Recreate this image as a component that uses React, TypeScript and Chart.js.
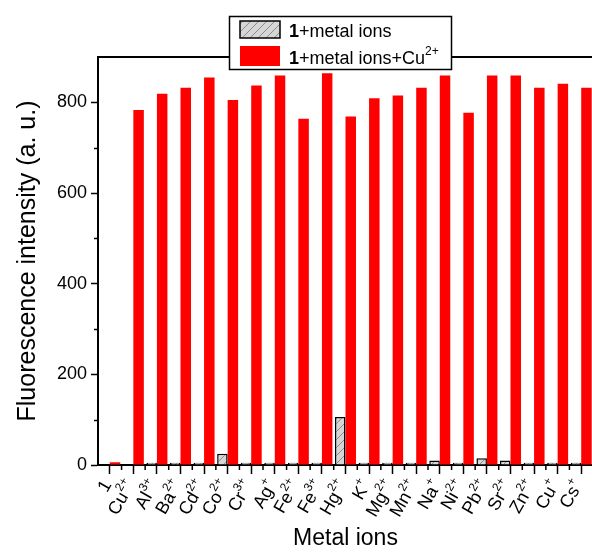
import React, { useEffect, useRef } from 'react';
import { Chart, registerables } from 'chart.js';

Chart.register(...registerables);

// ---- data ----
const categories = ['1', 'Cu²⁺', 'Al³⁺', 'Ba²⁺', 'Cd²⁺', 'Co²⁺', 'Cr³⁺', 'Ag⁺', 'Fe²⁺', 'Fe³⁺', 'Hg²⁺', 'K⁺', 'Mg²⁺', 'Mn²⁺', 'Na⁺', 'Ni²⁺', 'Pb²⁺', 'Sr²⁺', 'Zn²⁺', 'Cu⁺', 'Cs⁺'];
const metalOnly = [0, 0, 5, 5, 5, 25, 5, 5, 5, 5, 106, 5, 5, 5, 10, 5, 15, 10, 5, 5, 5];
const metalPlusCu = [6, 783, 819, 832, 855, 805, 837, 859, 764, 864, 769, 809, 815, 832, 859, 777, 859, 859, 832, 841, 832];
const yTickValues = [0, 200, 400, 600, 800];
const yMinorValues = [100, 300, 500, 700];
const legendLabels = ['1+metal ions', '1+metal ions+Cu²⁺'];
const xTitle = 'Metal ions';
const yTitle = 'Fluorescence intensity (a. u.)';

const FONT = "'Liberation Sans', Arial, sans-serif";
const W = 600;
const H = 552;

const SUP: Record<string, string> = { '²': '2', '³': '3', '⁺': '+' };
function splitLabel(s: string): [string, string] {
  let i = s.length;
  while (i > 0 && SUP[s[i - 1]]) i--;
  return [s.slice(0, i), s.slice(i).split('').map((c) => SUP[c]).join('')];
}

function makeHatch(): CanvasPattern | string {
  const c = document.createElement('canvas');
  c.width = 8;
  c.height = 8;
  const g = c.getContext('2d');
  if (!g) return '#d4d4d4';
  g.fillStyle = '#d6d6d6';
  g.fillRect(0, 0, 8, 8);
  g.strokeStyle = '#8c8c8c';
  g.lineWidth = 1;
  g.beginPath();
  g.moveTo(0, 8);
  g.lineTo(8, 0);
  g.moveTo(-1, 1);
  g.lineTo(1, -1);
  g.moveTo(7, 9);
  g.lineTo(9, 7);
  g.stroke();
  return g.createPattern(c, 'repeat') || '#d4d4d4';
}

function drawRich(ctx: CanvasRenderingContext2D, x: number, y: number, text: string, size: number) {
  // first char "1" bold, trailing superscript smaller
  const [base, sup] = splitLabel(text);
  const first = base.slice(0, 1);
  const rest = base.slice(1);
  ctx.textAlign = 'left';
  ctx.textBaseline = 'alphabetic';
  ctx.font = `bold ${size}px ${FONT}`;
  ctx.fillText(first, x, y);
  let cx = x + ctx.measureText(first).width;
  ctx.font = `${size}px ${FONT}`;
  ctx.fillText(rest, cx, y);
  cx += ctx.measureText(rest).width;
  if (sup) {
    ctx.font = `${Math.round(size * 0.66)}px ${FONT}`;
    ctx.fillText(sup, cx, y - size * 0.48);
  }
}

export default function App() {
  const ref = useRef<HTMLCanvasElement | null>(null);

  useEffect(() => {
    if (!ref.current) return;
    const hatch = makeHatch();

    const decor = {
      id: 'decor',
      afterDraw(chart: any) {
        const { ctx, chartArea: a, scales } = chart;
        const x = scales.x;
        const y = scales.y;
        ctx.save();
        ctx.strokeStyle = '#000';
        // top frame line
        ctx.lineWidth = 2;
        ctx.beginPath();
        ctx.moveTo(a.left - 1, a.top);
        ctx.lineTo(a.right + 1, a.top);
        ctx.stroke();
        // minor ticks
        ctx.lineWidth = 1.5;
        ctx.beginPath();
        yMinorValues.forEach((v) => {
          const py = Math.round(y.getPixelForValue(v)) + 0.5;
          ctx.moveTo(a.left, py);
          ctx.lineTo(a.left - 4, py);
        });
        const step = x.getPixelForValue(1) - x.getPixelForValue(0);
        for (let i = 0; i < categories.length; i++) {
          const px = x.getPixelForValue(i) + step / 2;
          ctx.moveTo(px, a.bottom);
          ctx.lineTo(px, a.bottom + 5);
        }
        ctx.stroke();
        // x tick labels (rotated, with superscripts)
        ctx.fillStyle = '#000';
        categories.forEach((lab, i) => {
          const [base, sup] = splitLabel(lab);
          const px = x.getPixelForValue(i);
          ctx.save();
          ctx.translate(px - 2, a.bottom + 17);
          ctx.rotate(-Math.PI / 3);
          ctx.textBaseline = 'middle';
          ctx.textAlign = 'left';
          ctx.font = `18px ${FONT}`;
          const wB = ctx.measureText(base).width;
          ctx.font = `12px ${FONT}`;
          const wS = sup ? ctx.measureText(sup).width : 0;
          ctx.font = `18px ${FONT}`;
          ctx.fillText(base, -(wB + wS), 0);
          if (sup) {
            ctx.font = `12px ${FONT}`;
            ctx.fillText(sup, -wS, -7);
          }
          ctx.restore();
        });
        // legend
        ctx.fillStyle = '#fff';
        ctx.fillRect(229, 16, 223, 54);
        ctx.lineWidth = 1.5;
        ctx.strokeStyle = '#000';
        ctx.strokeRect(229.5, 16.5, 222, 53);
        ctx.fillStyle = hatch;
        ctx.fillRect(240, 21, 40, 17);
        ctx.strokeRect(240, 21, 40, 17);
        ctx.fillStyle = '#ff0000';
        ctx.fillRect(240, 46, 40, 20);
        ctx.fillStyle = '#000';
        drawRich(ctx, 289, 37, legendLabels[0], 18);
        drawRich(ctx, 289, 64, legendLabels[1], 18);
        ctx.restore();
      },
    };

    const chart = new Chart(ref.current, {
      type: 'bar',
      data: {
        labels: categories,
        datasets: [
          {
            label: legendLabels[0],
            data: metalOnly,
            backgroundColor: hatch as any,
            borderColor: '#000',
            borderWidth: 1.5,
            categoryPercentage: 0.89,
            barPercentage: 1.0,
          },
          {
            label: legendLabels[1],
            data: metalPlusCu,
            backgroundColor: '#ff0000',
            borderWidth: 0,
            categoryPercentage: 0.89,
            barPercentage: 1.0,
          },
        ],
      },
      options: {
        responsive: false,
        animation: false,
        devicePixelRatio: 1,
        layout: { padding: { top: 57, right: W - 593, left: 0, bottom: 0 } },
        plugins: { legend: { display: false }, tooltip: { enabled: false } },
        scales: {
          x: {
            type: 'category',
            offset: true,
            grid: { offset: false, drawOnChartArea: false, drawTicks: true, tickLength: 9, tickColor: '#000', tickWidth: 1.5 },
            border: { color: '#000', width: 2 },
            ticks: { display: false },
            title: { display: true, text: xTitle, color: '#000', font: { family: FONT, size: 23 }, padding: { top: 0, bottom: 0 } },
            afterFit: (s: any) => {
              s.height = 87;
            },
          },
          y: {
            min: 0,
            max: 900,
            afterBuildTicks: (s: any) => {
              s.ticks = yTickValues.map((v) => ({ value: v }));
            },
            ticks: { stepSize: 200, includeBounds: false, color: '#000', font: { family: FONT, size: 18 }, padding: 4 },
            grid: { drawOnChartArea: false, drawTicks: true, tickLength: 7, tickColor: '#000', tickWidth: 1.5 },
            border: { color: '#000', width: 2 },
            title: { display: true, text: yTitle, color: '#000', font: { family: FONT, size: 25 }, padding: { top: 13, bottom: 0 } },
            afterFit: (s: any) => {
              s.width = 98;
            },
          },
        },
      },
      plugins: [decor],
    });
    return () => chart.destroy();
  }, []);

  return (
    <div style={{ position: 'absolute', left: 0, top: 0, width: 592, height: 552, overflow: 'hidden', background: '#fff' }}>
      <canvas ref={ref} width={W} height={H} style={{ width: W, height: H, display: 'block' }} />
    </div>
  );
}
